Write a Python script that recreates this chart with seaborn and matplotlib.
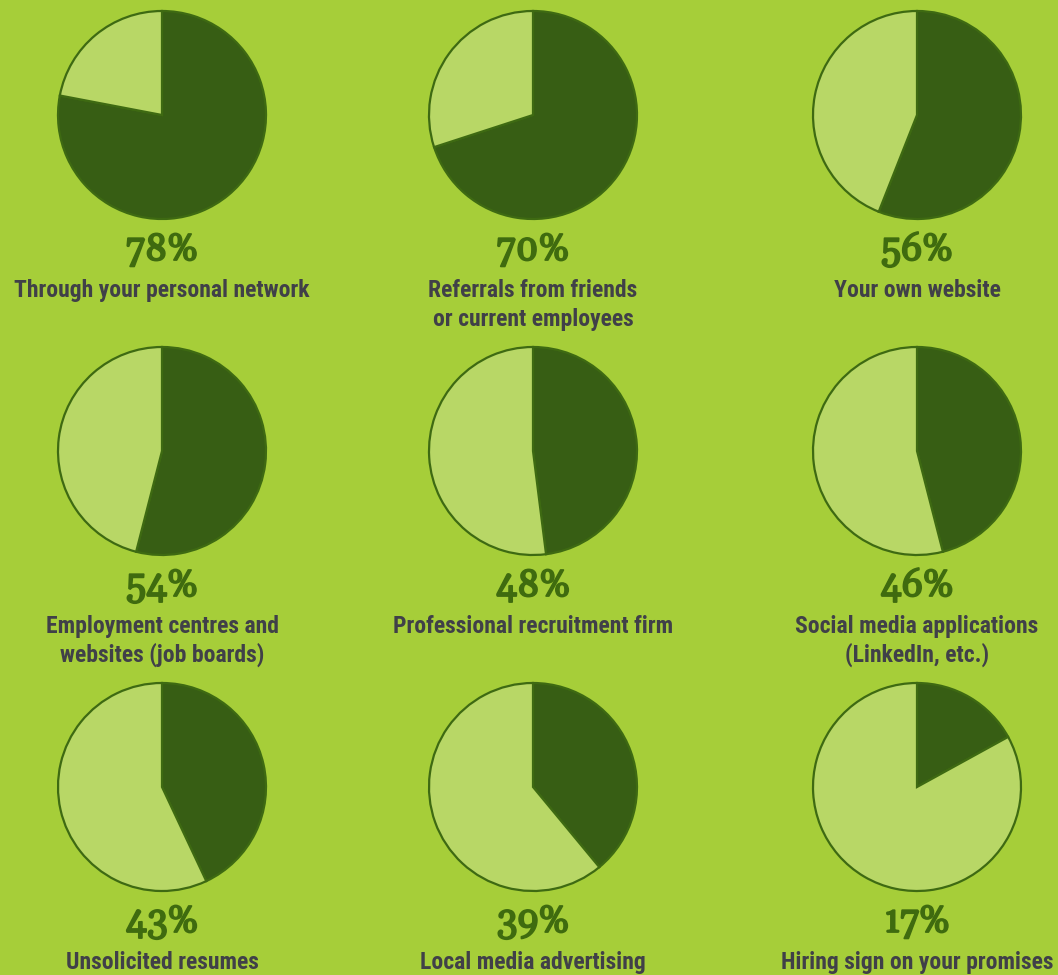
import matplotlib
matplotlib.use("Agg")
import matplotlib.pyplot as plt
import matplotlib.patheffects as pe
import seaborn as sns

# Share of respondents using each recruitment channel (%)
channels = [
    ["Through your personal network"],
    ["Referrals from friends", "or current employees"],
    ["Your own website"],
    ["Employment centres and", "websites (job boards)"],
    ["Professional recruitment firm"],
    ["Social media applications", "(LinkedIn, etc.)"],
    ["Unsolicited resumes"],
    ["Local media advertising"],
    ["Hiring sign on your promises"],
]
shares = [78, 70, 56, 54, 48, 46, 43, 39, 17]

BG = "#a6ce39"
DARK = "#375e14"
LIGHT = "#b8d766"
EDGE = "#3e6a12"
PCT_COLOR = "#3f6b0f"
LABEL_COLOR = "#404048"

sns.set_theme(style="white")
plt.rcParams["font.family"] = ["DejaVu Sans"]

W, H = 1058, 975
fig = plt.figure(figsize=(W / 100, H / 100), dpi=100, facecolor=BG)
ax = fig.add_axes([0, 0, 1, 1])
ax.set_facecolor(BG)

col_x = [162, 533, 917]
row_y = [115, 451, 787]
radius = 104

for i, (lines, val) in enumerate(zip(channels, shares)):
    cx = col_x[i % 3]
    cy = row_y[i // 3]
    ax.pie(
        [val, 100 - val],
        colors=[DARK, LIGHT],
        startangle=90,
        counterclock=False,
        center=(cx, H - cy),
        radius=radius,
        wedgeprops=dict(edgecolor=EDGE, linewidth=1.6),
        frame=True,
    )
    ax.text(cx, H - (cy + 145), f"{val}%", ha="center", va="baseline",
            fontsize=27, color=PCT_COLOR, family=["Gelasio", "DejaVu Serif"],
            path_effects=[pe.withStroke(linewidth=1.3, foreground=PCT_COLOR)])
    for k, line in enumerate(lines):
        ax.text(cx, H - (cy + 182 + 29 * k), line, ha="center", va="baseline",
                fontsize=17, fontweight="bold", color=LABEL_COLOR,
                family=["Roboto Condensed", "DejaVu Sans"])

ax.set_xlim(0, W)
ax.set_ylim(0, H)
ax.set_aspect("equal")
ax.axis("off")
fig.savefig("out.png", dpi=100, facecolor=BG)
